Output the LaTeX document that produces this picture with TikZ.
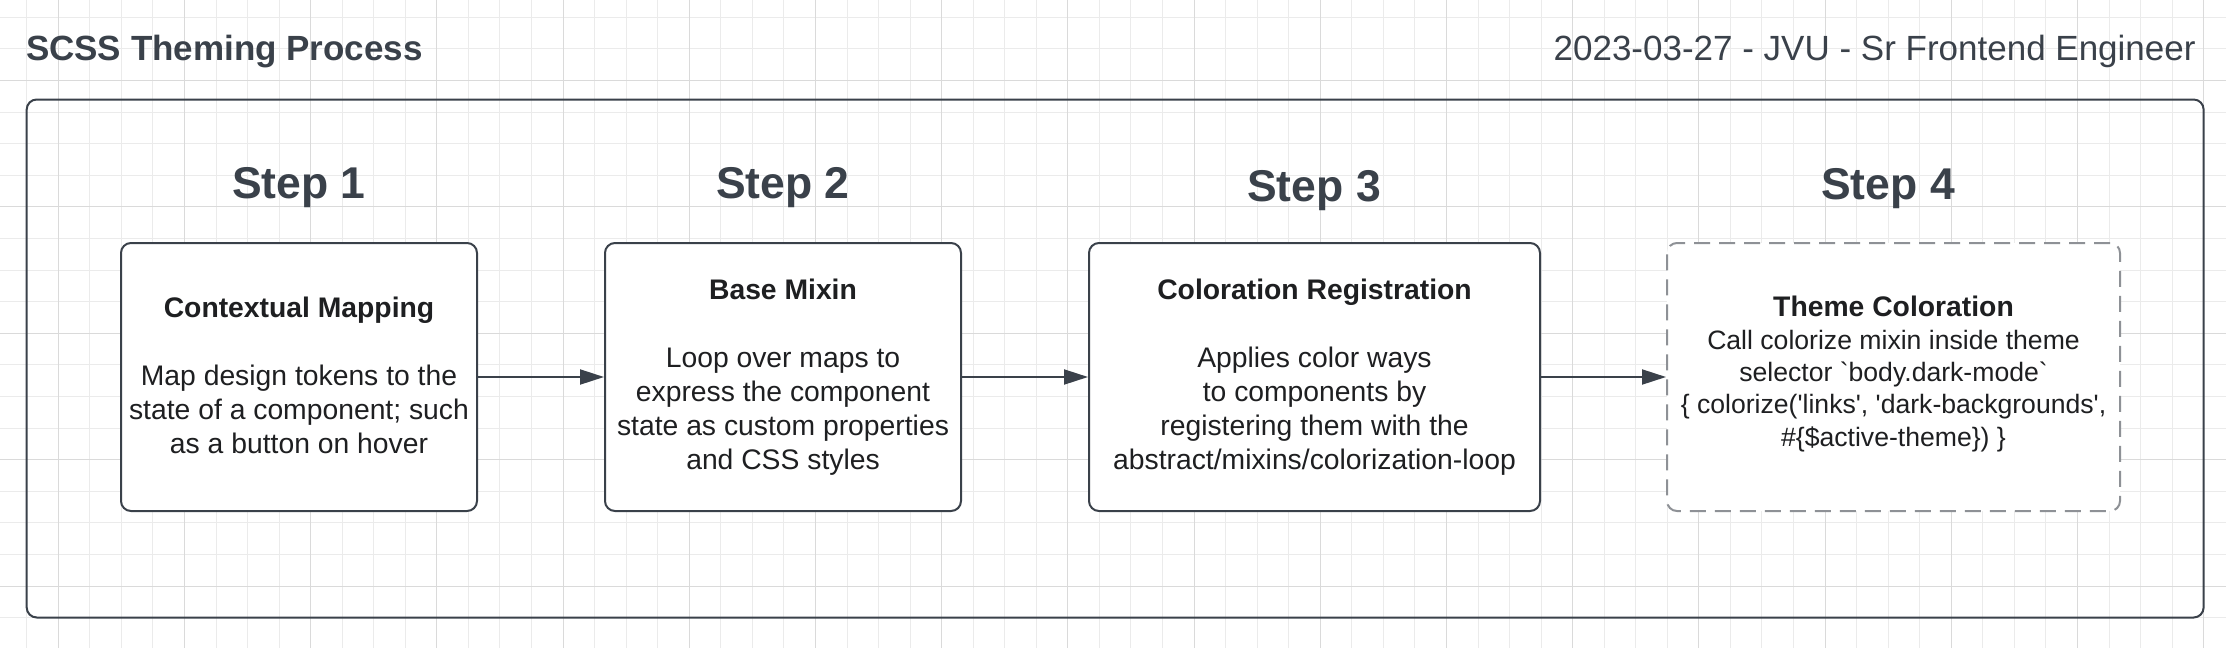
\documentclass[tikz,border=0pt]{standalone}
\usepackage{fontspec}
\setmainfont{Liberation Sans}
\newfontfamily\codefont{Liberation Sans}
\usetikzlibrary{calc}
\usetikzlibrary{arrows.meta}

\definecolor{slate}{HTML}{3A414A}
\definecolor{boxink}{HTML}{1E1F21}
\definecolor{dashgray}{HTML}{8E9196}
\definecolor{gridminor}{HTML}{EBEBEB}
\definecolor{gridmajor}{HTML}{DADADA}

\begin{document}
\begin{tikzpicture}[>={Triangle[length=12pt,width=7.5pt]}, x=0.5pt, y=-0.5pt]
\tikzset{stepbox/.style={draw=slate,line width=1pt,rounded corners=5pt,fill=white,text=boxink,align=center,minimum height=134pt,inner sep=0pt,font=\fontsize{14.15}{17}\selectfont}}
\tikzset{steplabel/.style={text=slate,anchor=base,inner sep=0pt,font=\fontsize{22.25}{26}\selectfont\bfseries}}
\tikzset{heading/.style={text=slate,inner sep=0pt,font=\fontsize{17.5}{21}\selectfont}}

\useasboundingbox (0,0) rectangle (2226,648);
\fill[white] (0,0) rectangle (2226,648);

% background grid - light lines, every 4th one darker
\foreach \k in {0,...,69}
  \draw[gridminor,line width=0.5pt] ({26.7+31.55*\k},0) -- ({26.7+31.55*\k},648);
\foreach \j in {0,...,19}
  \draw[gridminor,line width=0.5pt] (0,{17.3+31.6*\j}) -- (2226,{17.3+31.6*\j});
\foreach \k in {1,5,...,69}
  \draw[gridmajor,line width=0.5pt] ({26.7+31.55*\k},0) -- ({26.7+31.55*\k},648);
\foreach \j in {2,6,...,19}
  \draw[gridmajor,line width=0.5pt] (0,{17.3+31.6*\j}) -- (2226,{17.3+31.6*\j});

% page header
\node[heading,anchor=base west,font=\fontsize{17.5}{21}\selectfont\bfseries] (title) at (25.6,60) {SCSS Theming Process};
\node[heading,anchor=base east] (byline) at (2196,60) {2023-03-27 - JVU - Sr Frontend Engineer};

% outer frame
\draw[slate,line width=1pt,rounded corners=5pt] (26.7,99.5) rectangle (2203.6,617.5);

% box centres
\coordinate (b1) at (299,377);
\coordinate (b2) at (783,377);
\coordinate (b3) at (1314.5,377);
\coordinate (b4) at (1893.5,377);

% step headings
\node[steplabel] (s1) at (299,198) {Step 1};
\node[steplabel] (s2) at (783,198) {Step 2};
\node[steplabel] (s3) at (1314,201) {Step 3};
\node[steplabel] (s4) at (1888,199) {Step 4};

% process boxes
\node[stepbox,minimum width=178pt] (map) at (b1) {\textbf{Contextual Mapping}\\[17pt]Map design tokens to the\\state of a component; such\\as a button on hover\rule[-1.4pt]{0pt}{0pt}};
\node[stepbox,minimum width=178pt] (mixin) at (b2) {\textbf{Base Mixin}\\[17pt]Loop over maps to\\express the component\\state as custom properties\\and CSS styles};
\node[stepbox,minimum width=225.5pt] (registry) at (b3) {\textbf{Coloration Registration}\\[17pt]Applies color ways\\to components by\\registering them with the\\abstract/mixins/colorization-loop};
\node[stepbox,minimum width=226.5pt,draw=dashgray,dash pattern=on 8pt off 4.5pt,font=\codefont\fontsize{13.3}{16.2}\selectfont] (theme) at (b4) {{\fontsize{14.15}{16.2}\selectfont\bfseries Theme Coloration}\\Call colorize mixin inside theme\\selector `body.dark-mode`\\\{ colorize('links', 'dark-backgrounds',\\\#\{\$active-theme\}) \}\rule[-5.8pt]{0pt}{0pt}};

% connectors
\draw[->,slate,line width=1pt] (map) -- (mixin);
\draw[->,slate,line width=1pt] (mixin) -- (registry);
\draw[->,slate,line width=1pt] (registry) -- (theme);

\end{tikzpicture}
\end{document}
